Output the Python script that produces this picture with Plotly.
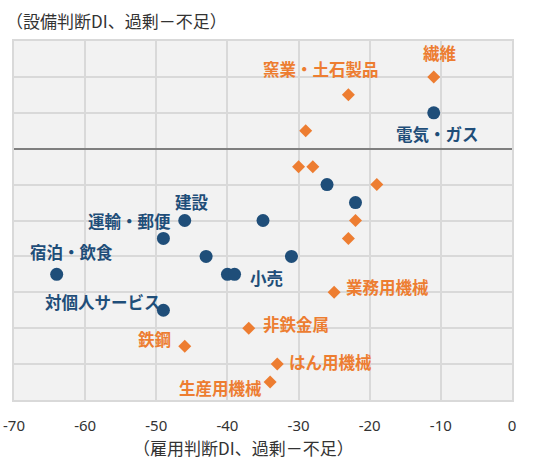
import plotly.graph_objects as go

# Manufacturing (orange diamonds)
mfg_x = [-11, -23, -29, -30, -28, -19, -22, -23, -25, -37, -46, -33, -34]
mfg_y = [4, 3, 1, -1, -1, -2, -4, -5, -8, -10, -11, -12, -13]
mfg_labels = ["繊維", "窯業・土石製品", "", "", "", "", "", "", "業務用機械", "非鉄金属", "鉄鋼", "はん用機械", "生産用機械"]

# Non-manufacturing (blue circles)
non_x = [-11, -26, -22, -46, -35, -49, -43, -31, -64, -40, -39, -49]
non_y = [2, -2, -3, -4, -4, -5, -6, -6, -7, -7, -7, -9]
non_labels = ["電気・ガス", "", "", "建設", "", "運輸・郵便", "", "", "宿泊・飲食", "", "小売", "対個人サービス"]

x_ticks = [-70, -60, -50, -40, -30, -20, -10, 0]
x_title = "（雇用判断DI、過剰－不足）"
y_title = "（設備判断DI、過剰－不足）"

ORANGE = "#ED7D31"
BLUE = "#1F4E79"

# label offsets (pixels) — styling only
offsets = {
    "繊維": (6, 24), "窯業・土石製品": (-27, 26), "業務用機械": (53, 5),
    "非鉄金属": (47, 4), "鉄鋼": (-30, 7), "はん用機械": (53, 2), "生産用機械": (-50, -6),
    "電気・ガス": (4, -21), "建設": (7, 19), "運輸・郵便": (-34, 17),
    "宿泊・飲食": (15, 22), "小売": (32, -4), "対個人サービス": (-60, 8),
}

fig = go.Figure()
fig.add_trace(go.Scatter(x=non_x, y=non_y, mode="markers",
                         marker=dict(symbol="circle", size=13, color=BLUE),
                         hoverinfo="x+y", showlegend=False))
fig.add_trace(go.Scatter(x=mfg_x, y=mfg_y, mode="markers",
                         marker=dict(symbol="diamond", size=10, color=ORANGE),
                         hoverinfo="x+y", showlegend=False))

annotations = []
for xs, ys, labs, col in [(mfg_x, mfg_y, mfg_labels, ORANGE), (non_x, non_y, non_labels, BLUE)]:
    for xv, yv, lab in zip(xs, ys, labs):
        if not lab:
            continue
        dx, dy = offsets[lab]
        annotations.append(dict(x=xv, y=yv, xref="x", yref="y", text="<b>" + lab + "</b>",
                                showarrow=False, xshift=dx, yshift=dy,
                                font=dict(family="Noto Sans CJK JP", size=16.5, color=col)))

annotations.append(dict(x=-0.02, y=1.056, xref="paper", yref="paper", text=y_title,
                        showarrow=False, xanchor="left", yanchor="middle",
                        font=dict(family="Noto Sans CJK JP", size=17, color="#333333")))
annotations.append(dict(x=0.46, y=-0.131, xref="paper", yref="paper", text=x_title,
                        showarrow=False, xanchor="center", yanchor="middle",
                        font=dict(family="Noto Sans CJK JP", size=17, color="#333333")))

fig.update_layout(
    width=539, height=459,
    margin=dict(l=14, r=27, t=41, b=59, autoexpand=False),
    paper_bgcolor="white", plot_bgcolor="#F2F2F2",
    annotations=annotations,
    xaxis=dict(range=[-70, 0], tickvals=x_ticks, ticktext=[str(v) for v in x_ticks],
               automargin=False,
               showgrid=True, gridcolor="#D9D9D9", gridwidth=1.5,
               zeroline=True, zerolinecolor="#7F7F7F", zerolinewidth=1.5,
               showline=True, linecolor="#D9D9D9", linewidth=1.5, mirror=True,
               ticks="outside", ticklen=11, tickcolor="rgba(0,0,0,0)",
               tickfont=dict(family="Noto Sans", size=15, color="#333333")),
    yaxis=dict(range=[-14, 6], dtick=2, showticklabels=False, automargin=False,
               showgrid=True, gridcolor="#D9D9D9", gridwidth=1.5,
               zeroline=True, zerolinecolor="#7F7F7F", zerolinewidth=1.5,
               showline=True, linecolor="#D9D9D9", linewidth=1.5, mirror=True),
)

fig.write_html("out.html", config={"displayModeBar": False},
               post_script="document.body.style.margin='0';")
